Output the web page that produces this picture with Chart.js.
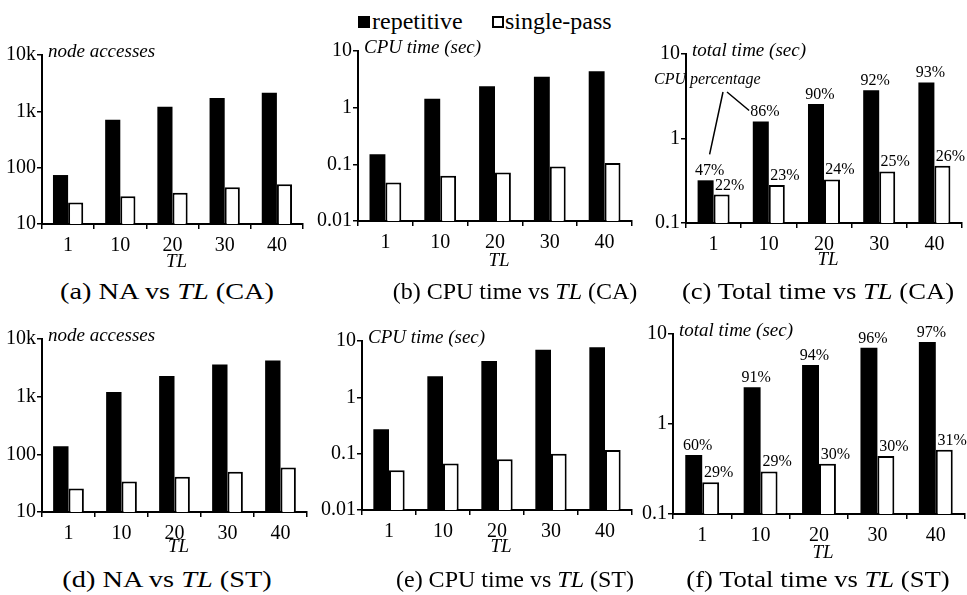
<!DOCTYPE html>
<html>
<head>
<meta charset="utf-8">
<script src="https://cdn.jsdelivr.net/npm/chart.js@4.4.1/dist/chart.umd.min.js"></script>
<style>
html,body{margin:0;padding:0;background:#fff;}
#wrap{position:relative;width:967px;height:595px;overflow:hidden;background:#fff;font-family:'Liberation Serif','Times New Roman',serif;color:#000;}
#wrap canvas{position:absolute;}
.cap{position:absolute;font-size:24px;line-height:24px;white-space:nowrap;font-family:'Liberation Serif','Times New Roman',serif;}
.legt{position:absolute;font-size:24px;line-height:24px;white-space:nowrap;font-family:'Liberation Serif','Times New Roman',serif;}
.sq{position:absolute;box-sizing:border-box;}
</style>
</head>
<body>
<div id="wrap">
  <div class="sq" style="left:358px;top:16px;width:12px;height:12px;background:#000;"></div>
  <div class="legt" style="left:372px;top:9px;">repetitive</div>
  <div class="sq" style="left:492px;top:16px;width:12px;height:12px;border:2px solid #000;background:#fff;"></div>
  <div class="legt" style="left:505px;top:9px;">single-pass</div>

  <canvas id="cA"></canvas><canvas id="cB"></canvas><canvas id="cC"></canvas>
  <canvas id="cD"></canvas><canvas id="cE"></canvas><canvas id="cF"></canvas>

  <div class="cap" style="left:167px;top:279px;transform:translateX(-50%) scaleX(1.18);">(a) NA vs <i>TL</i> (CA)</div>
  <div class="cap" style="left:515px;top:279px;transform:translateX(-50%);">(b) CPU time vs <i>TL</i> (CA)</div>
  <div class="cap" style="left:818px;top:279px;transform:translateX(-50%) scaleX(1.11);">(c) Total time vs <i>TL</i> (CA)</div>
  <div class="cap" style="left:167px;top:567px;transform:translateX(-50%) scaleX(1.18);">(d) NA vs <i>TL</i> (ST)</div>
  <div class="cap" style="left:515px;top:567px;transform:translateX(-50%);">(e) CPU time vs <i>TL</i> (ST)</div>
  <div class="cap" style="left:818px;top:567px;transform:translateX(-50%) scaleX(1.11);">(f) Total time vs <i>TL</i> (ST)</div>
</div>
<script>
// ---------- data ----------
const categories = ['1', '10', '20', '30', '40'];
const seriesNames = ['repetitive', 'single-pass'];
const xTitle = 'TL';

// (a) node accesses, CA
const naCA_repetitive = [74, 710, 1200, 1730, 2130];
const naCA_single = [24, 31, 36, 45, 51];
// (b) CPU time, CA
const cpuCA_repetitive = [0.15, 1.44, 2.38, 3.52, 4.38];
const cpuCA_single = [0.048, 0.063, 0.072, 0.092, 0.106];
// (c) total time, CA
const totCA_repetitive = [0.32, 1.59, 2.56, 3.73, 4.6];
const totCA_single = [0.217, 0.281, 0.328, 0.408, 0.477];
const pctCA_repetitive = ['47%', '86%', '90%', '92%', '93%'];
const pctCA_single = ['22%', '23%', '24%', '25%', '26%'];
// (d) node accesses, ST
const naST_repetitive = [138, 1210, 2290, 3610, 4250];
const naST_single = [25.5, 33.8, 40.8, 49.9, 59.3];
// (e) CPU time, ST
const cpuST_repetitive = [0.27, 2.36, 4.42, 7.02, 7.72];
const cpuST_single = [0.051, 0.067, 0.080, 0.100, 0.116];
// (f) total time, ST
const totST_repetitive = [0.451, 2.56, 4.51, 7.04, 8.14];
const totST_single = [0.225, 0.297, 0.361, 0.44, 0.517];
const pctST_repetitive = ['60%', '91%', '94%', '96%', '97%'];
const pctST_single = ['29%', '29%', '30%', '30%', '31%'];

// tick values / labels
const naTicks = [10, 100, 1000, 10000];
const naTickLabels = ['10', '100', '1k', '10k'];
const cpuTicks = [0.01, 0.1, 1, 10];
const cpuTickLabels = ['0.01', '0.1', '1', '10'];
const totTicks = [0.1, 1, 10];
const totTickLabels = ['0.1', '1', '10'];

const FONT = "'Liberation Serif','Times New Roman',serif";

// ---------- drawing ----------
const panelText = {
  id: 'panelText',
  afterDraw(chart, args, o) {
    const ctx = chart.ctx, ca = chart.chartArea;
    ctx.save();
    ctx.fillStyle = '#000';
    ctx.strokeStyle = '#000';
    // y-axis title
    ctx.font = 'italic 19px ' + FONT;
    ctx.textAlign = 'left';
    ctx.textBaseline = 'middle';
    ctx.fillText(o.yTitle, ca.left + 6, ca.top - 3);
    // x-axis title
    ctx.textAlign = 'center';
    ctx.fillText(xTitle, (ca.left + ca.right) / 2 + 4, ca.bottom + o.xTitleOff);
    // percentage labels
    const pos = [];
    if (o.pct) {
      ctx.font = '16px ' + FONT;
      ctx.textBaseline = 'alphabetic';
      o.pct.forEach((labels, di) => {
        const meta = chart.getDatasetMeta(di);
        pos[di] = [];
        meta.data.forEach((el, i) => {
          const x = el.x + (di === 0 ? 4 : 8);
          const y = el.y - 5;
          ctx.fillText(labels[i], x, y);
          pos[di][i] = {x, y, w: ctx.measureText(labels[i]).width};
        });
      });
    }
    // "CPU percentage" annotation
    if (o.note && pos[0]) {
      ctx.font = 'italic 16px ' + FONT;
      ctx.textAlign = 'left';
      ctx.textBaseline = 'middle';
      ctx.fillText(o.note, ca.left - 32, ca.top + 26);
      ctx.lineWidth = 1.5;
      const p0 = pos[0][0], p1 = pos[0][1];
      ctx.beginPath();
      ctx.moveTo(ca.left + 37, ca.top + 38);
      ctx.lineTo(p0.x, p0.y - 21);
      ctx.moveTo(ca.left + 41, ca.top + 38);
      ctx.lineTo(p1.x - p1.w / 2 - 1, p1.y - 6);
      ctx.stroke();
    }
    ctx.restore();
  }
};

function makePanel(id, box, cfg) {
  const ML = 52, MT = 30, MR = 10, MB = 52;
  const cv = document.getElementById(id);
  const W = box.r - box.l + ML + MR, H = box.b - box.t + MT + MB;
  cv.width = W; cv.height = H;
  cv.style.width = W + 'px'; cv.style.height = H + 'px';
  cv.style.left = (box.l - ML) + 'px'; cv.style.top = (box.t - MT) + 'px';
  const zeroPad = s => { s.paddingLeft = 0; s.paddingRight = 0; s.paddingTop = 0; s.paddingBottom = 0; };
  new Chart(cv, {
    type: 'bar',
    data: {
      labels: categories,
      datasets: [
        {label: seriesNames[0], data: cfg.rep, backgroundColor: '#000', borderColor: '#000', borderWidth: 0},
        {label: seriesNames[1], data: cfg.single, backgroundColor: '#fff', borderColor: '#000', borderWidth: 2}
      ]
    },
    options: {
      responsive: false, animation: false, devicePixelRatio: 1,
      layout: {padding: {left: 0, top: MT, right: MR, bottom: 0}, autoPadding: false},
      datasets: {bar: {categoryPercentage: 0.58, barPercentage: 1}},
      plugins: {
        legend: {display: false}, tooltip: {enabled: false},
        panelText: {yTitle: cfg.yTitle, pct: cfg.pct, note: cfg.note, xTitleOff: cfg.xTitleOff}
      },
      scales: {
        x: {
          type: 'category', offset: true,
          grid: {offset: true, drawOnChartArea: false, drawTicks: true, tickLength: 5, color: '#000', lineWidth: 1.5},
          border: {display: true, color: '#000', width: 2},
          ticks: {color: '#000', font: {family: FONT, size: 20}, padding: 5, maxRotation: 0, autoSkip: false},
          afterFit(s) { s.height = MB; zeroPad(s); }
        },
        y: {
          type: 'logarithmic', min: cfg.ticks[0], max: cfg.ticks[cfg.ticks.length - 1],
          grid: {drawOnChartArea: false, drawTicks: true, tickLength: 5, color: '#000', lineWidth: 1.5},
          border: {display: true, color: '#000', width: 2},
          ticks: {
            color: '#000', font: {family: FONT, size: 20}, padding: 1, autoSkip: false,
            callback: (v) => { const i = cfg.ticks.indexOf(v); return i >= 0 ? cfg.tickLabels[i] : ''; }
          },
          afterBuildTicks(s) { s.ticks = cfg.ticks.map(v => ({value: v})); },
          afterFit(s) { s.width = ML; zeroPad(s); }
        }
      }
    },
    plugins: [panelText]
  });
}

makePanel('cA', {l: 42, t: 55, r: 303, b: 224},
  {rep: naCA_repetitive, single: naCA_single, ticks: naTicks, tickLabels: naTickLabels, yTitle: 'node accesses', xTitleOff: 38});
makePanel('cB', {l: 358, t: 51, r: 632, b: 221},
  {rep: cpuCA_repetitive, single: cpuCA_single, ticks: cpuTicks, tickLabels: cpuTickLabels, yTitle: 'CPU time (sec)', xTitleOff: 40});
makePanel('cC', {l: 686, t: 54, r: 962, b: 223},
  {rep: totCA_repetitive, single: totCA_single, ticks: totTicks, tickLabels: totTickLabels, yTitle: 'total time (sec)',
   pct: [pctCA_repetitive, pctCA_single], note: 'CPU percentage', xTitleOff: 37});
makePanel('cD', {l: 42, t: 339, r: 307, b: 512},
  {rep: naST_repetitive, single: naST_single, ticks: naTicks, tickLabels: naTickLabels, yTitle: 'node accesses', xTitleOff: 35});
makePanel('cE', {l: 362, t: 341, r: 632, b: 510},
  {rep: cpuST_repetitive, single: cpuST_single, ticks: cpuTicks, tickLabels: cpuTickLabels, yTitle: 'CPU time (sec)', xTitleOff: 37});
makePanel('cF', {l: 673, t: 334, r: 965, b: 514},
  {rep: totST_repetitive, single: totST_single, ticks: totTicks, tickLabels: totTickLabels, yTitle: 'total time (sec)',
   pct: [pctST_repetitive, pctST_single], xTitleOff: 39});
</script>
</body>
</html>
